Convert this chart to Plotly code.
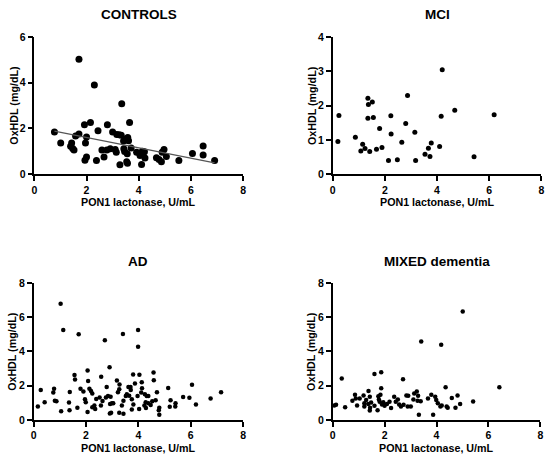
import numpy as np
import plotly.graph_objects as go

# PON1 lactonase (U/mL) vs OxHDL (mg/dL)
ctrl_x = [0.77, 1.01, 1.39, 1.43, 1.52, 1.47, 1.58, 1.71, 1.71, 1.92, 2.15, 2.00, 1.96, 1.94,
          2.00, 2.30, 2.38, 2.44, 2.59, 2.67, 2.80, 2.78, 2.91, 3.00, 3.10, 3.16, 3.25, 3.33,
          3.28, 3.35, 3.14, 3.42, 3.48, 3.58, 3.61, 3.65, 3.43, 3.46, 3.56, 3.54, 3.57, 3.71,
          3.92, 4.05, 4.14, 4.22, 4.24, 4.11, 4.06, 4.68, 4.78, 4.87, 4.90, 4.97, 5.06, 5.54,
          6.06, 6.47, 6.47, 6.91]
ctrl_y = [1.84, 1.36, 1.22, 1.36, 1.06, 1.12, 1.67, 1.76, 5.02, 2.16, 2.26, 1.63, 1.36, 0.61,
          0.75, 3.90, 0.60, 1.90, 1.06, 0.75, 2.16, 1.06, 1.11, 1.84, 1.08, 1.74, 1.72, 1.70,
          0.41, 3.08, 0.96, 1.45, 1.53, 1.60, 1.46, 2.26, 1.11, 0.99, 0.89, 0.54, 0.48, 1.15,
          0.96, 0.82, 1.00, 0.98, 0.71, 0.43, 0.87, 0.72, 0.64, 0.54, 0.96, 1.08, 0.78, 0.60,
          0.91, 1.23, 0.84, 0.60]

mci_x = [0.20, 0.24, 0.87, 1.08, 1.15, 1.24, 1.42, 1.35, 1.37, 1.52, 1.35, 1.56, 1.68, 1.80,
         1.89, 2.14, 2.23, 2.24, 2.48, 2.65, 2.80, 2.87, 3.15, 3.18, 3.54, 3.67, 3.73, 3.78,
         4.10, 4.16, 4.20, 4.68, 5.42, 6.19]
mci_y = [0.95, 1.71, 1.08, 0.68, 0.87, 0.75, 0.66, 2.21, 2.03, 2.10, 1.63, 1.65, 0.73, 1.33,
         0.78, 0.40, 1.70, 1.17, 0.42, 0.93, 1.48, 2.29, 1.22, 0.40, 0.58, 0.76, 0.52, 0.91,
         0.81, 1.69, 3.04, 1.86, 0.51, 1.73]

ad_x = [1.03, 1.13, 1.72, 2.72, 3.41, 3.99, 3.99, 2.90, 2.06, 1.56, 1.58, 2.58, 3.80, 4.04,
        4.58, 4.59, 2.08, 3.18, 3.28, 4.13, 3.87, 6.05, 5.14, 0.27, 0.78, 0.75, 1.79, 1.90,
        2.13, 2.19, 2.24, 1.38, 2.79, 3.27, 3.22, 3.62, 3.70, 3.71, 4.14, 4.11, 3.56, 4.71,
        7.16, 6.76, 5.71, 5.95, 6.20, 0.42, 0.16, 0.81, 0.87, 1.35, 1.05, 1.37, 1.67, 1.96,
        1.99, 2.06, 2.24, 2.35, 2.32, 2.39, 2.52, 2.63, 2.76, 2.57, 2.84, 2.94, 2.99, 2.92,
        3.04, 2.96, 2.91, 3.27, 3.43, 3.43, 3.37, 3.52, 3.65, 3.75, 3.81, 3.75, 3.97, 4.03,
        4.25, 4.32, 4.38, 4.28, 4.23, 4.38, 4.47, 4.29, 4.53, 4.66, 4.80, 4.78, 4.80, 5.23,
        5.20, 5.42, 5.41]
ad_y = [6.79, 5.26, 5.00, 4.66, 5.02, 5.25, 4.28, 3.08, 2.89, 2.62, 2.36, 2.53, 2.66, 2.64,
        2.77, 2.32, 2.28, 2.30, 2.08, 2.21, 2.13, 2.06, 1.87, 1.75, 1.83, 1.60, 1.83, 1.66,
        1.83, 1.70, 1.55, 1.64, 1.92, 1.79, 1.62, 1.92, 1.92, 1.75, 1.85, 1.60, 1.51, 1.62,
        1.62, 1.26, 1.34, 1.30, 0.91, 1.04, 0.79, 1.13, 1.09, 1.02, 0.51, 0.57, 0.72, 1.21,
        1.04, 0.47, 0.75, 0.64, 0.85, 1.23, 1.32, 1.11, 1.32, 0.85, 1.40, 1.36, 0.98, 0.94,
        0.98, 0.43, 0.38, 0.42, 0.36, 1.13, 0.85, 1.40, 1.42, 1.21, 0.91, 0.62, 1.40, 0.64,
        1.51, 1.40, 1.40, 1.04, 0.85, 0.98, 0.87, 0.70, 1.09, 1.15, 0.72, 0.57, 0.30, 1.15,
        0.77, 0.98, 0.79]

mix_x = [5.01, 3.41, 4.18, 0.35, 1.61, 1.87, 2.71, 1.87, 4.35, 6.42, 0.06, 0.13, 0.48, 0.76,
         0.86, 0.89, 0.94, 1.04, 1.19, 1.22, 1.22, 1.29, 1.38, 1.37, 1.43, 1.44, 1.43, 1.48,
         1.61, 1.73, 1.76, 1.78, 1.84, 1.81, 1.90, 1.95, 2.00, 2.09, 2.19, 2.25, 2.37, 2.43,
         2.51, 2.56, 2.63, 2.73, 2.84, 2.91, 2.89, 3.01, 3.11, 3.14, 3.24, 3.29, 3.27, 3.32,
         3.39, 3.67, 3.80, 3.87, 3.95, 3.99, 4.05, 4.15, 4.20, 4.39, 4.43, 4.59, 4.73, 4.81,
         4.91, 5.41]
mix_y = [6.34, 4.58, 4.40, 2.42, 2.68, 2.79, 2.38, 1.85, 1.91, 1.91, 0.85, 0.89, 0.75, 1.13,
         1.47, 1.26, 0.85, 1.25, 1.43, 0.98, 0.79, 1.17, 1.70, 0.94, 1.36, 0.72, 0.55, 1.02,
         0.83, 0.57, 1.38, 1.19, 1.47, 1.06, 0.91, 1.04, 0.83, 0.94, 1.06, 0.70, 1.36, 1.06,
         1.19, 0.91, 0.79, 0.89, 1.43, 1.42, 0.79, 0.79, 1.19, 1.55, 1.66, 1.42, 1.13, 0.30,
         1.09, 1.26, 1.47, 0.30, 1.36, 1.17, 0.98, 0.79, 0.85, 0.79, 0.72, 1.28, 0.72, 1.43,
         0.94, 1.08]

x_ticks = [0, 2, 4, 6, 8]

# title, x, y, y max, y step, marker size, plot box (x0, x1, y0, y1) in px
panels = [
    ("CONTROLS", ctrl_x, ctrl_y, 6, 2, 7, (31.7, 242.7, 31.7, 172.7)),
    ("MCI", mci_x, mci_y, 4, 1, 5, (333.3, 544.3, 31.7, 172.7)),
    ("AD", ad_x, ad_y, 8, 2, 4.5, (31.0, 242.7, 284.3, 425.0)),
    ("MIXED dementia", mix_x, mix_y, 8, 2, 4.5, (333.3, 543.3, 284.3, 425.0)),
]

W, H = 550, 464
FONT = "Liberation Sans, Arial, sans-serif"
fig = go.Figure()
annotations = []


def label(text, x, y, size, angle=0):
    return dict(
        text=text, x=x / W, y=1 - y / H, xref="paper", yref="paper",
        xanchor="center", yanchor="middle", showarrow=False, textangle=angle,
        font=dict(family=FONT, size=size, color="black", weight="bold"),
    )


for i, (title, xs, ys, ymax, ystep, msize, box) in enumerate(panels):
    n = "" if i == 0 else str(i + 1)
    x0, x1, y0, y1 = box
    fig.add_trace(
        go.Scatter(
            x=xs, y=ys, mode="markers",
            marker=dict(color="black", size=msize),
            xaxis="x" + n, yaxis="y" + n,
            cliponaxis=False, showlegend=False,
        )
    )
    if title == "CONTROLS":
        # linear regression shown only for controls
        slope, icpt = np.polyfit(xs, ys, 1)
        lx = np.array([min(xs), max(xs)])
        fig.add_trace(
            go.Scatter(
                x=lx, y=slope * lx + icpt, mode="lines",
                line=dict(color="#555555", width=1.2),
                xaxis="x" + n, yaxis="y" + n, showlegend=False,
            )
        )
    axis_style = dict(
        showline=True, linecolor="black", linewidth=1.5,
        ticks="outside", ticklen=5, tickwidth=1.5, tickcolor="black",
        showgrid=False, zeroline=False,
        tickfont=dict(family=FONT, size=10.5, color="black", weight="bold"),
    )
    fig.update_layout({
        "xaxis" + n: dict(
            axis_style, domain=[x0 / W, x1 / W], range=[0, 8],
            tickvals=x_ticks, anchor="y" + n,
        ),
        "yaxis" + n: dict(
            axis_style, domain=[1 - y1 / H, 1 - y0 / H], range=[0, ymax],
            dtick=ystep, tick0=0, anchor="x" + n,
        ),
    })
    cx = (x0 + x1) / 2
    annotations.append(label(title, cx, y0 - 22.5, 13.5))
    annotations.append(label("PON1 lactonase, U/mL", cx, y1 + 29, 10.7))
    annotations.append(label("OxHDL (mg/dL)", x0 - 21.5, (y0 + y1) / 2, 10.7, -90))

fig.update_layout(
    width=W, height=H,
    margin=dict(l=0, r=0, t=0, b=0),
    paper_bgcolor="white", plot_bgcolor="white",
    annotations=annotations,
)

fig.write_html(
    "out.html",
    config={"displayModeBar": False},
    post_script="document.body.style.margin='0';",
)
